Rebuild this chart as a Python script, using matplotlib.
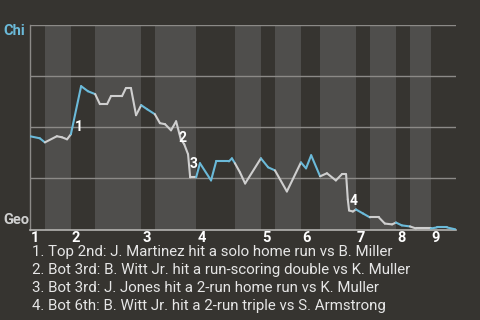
import matplotlib
matplotlib.use("Agg")
import matplotlib.pyplot as plt
from matplotlib.collections import LineCollection
import numpy as np

# Game progress (percent of plays) and Chicago win probability after each play
progress = [
    0, 2.3, 3.5,
    6.3, 7.5, 8.7, 9.6,
    12.0, 13.6, 15.3,
    16.4, 18.1, 19.0, 21.6, 22.5, 23.7, 24.9, 26.1,
    27.5, 29.3,
    30.5, 31.7, 33.1, 34.3, 35.4, 36.2, 37.1, 37.6, 39.0,
    39.9, 42.5, 43.7, 46.7, 47.4, 48.1,
    49.3, 50.5, 54.2,
    55.9, 57.5,
    60.3, 63.6,
    64.8, 66.0, 68.1,
    69.7, 71.8, 73.2, 74.2, 74.6, 74.9, 75.8, 76.5,
    78.2, 79.8,
    81.9, 83.3, 85.0, 85.9,
    87.3, 89.2,
    90.6, 94.1,
    95.5, 97.9, 100,
]
chi_win_prob = [
    .456, .446, .426,
    .456, .451, .441, .466,
    .701, .676, .662,
    .613, .613, .652, .652, .691, .691, .559, .608,
    .588, .564,
    .520, .515, .485, .529, .441, .417, .368, .255, .255,
    .324, .240, .333, .333, .348, .324,
    .279, .225, .348,
    .304, .289,
    .186, .328,
    .299, .363, .260,
    .275, .240, .270, .270, .147, .093, .088, .098,
    .078, .059,
    .059, .029, .025, .034,
    .020, .015,
    .005, .005,
    .010, .010, .0,
]

# Start of each half inning (top 1st, bottom 1st, ..., top 9th) and game end
half_inning_starts = [0, 3.5, 9.6, 15.3, 26.1, 29.3, 39.0, 48.1, 54.2,
                      57.5, 63.6, 68.1, 76.5, 79.8, 85.9, 89.2, 94.1]
game_end = 100
innings = ["1", "2", "3", "4", "5", "6", "7", "8", "9"]

# Key plays: index of the play where each swing starts
key_play_index = [6, 24, 26, 49]
key_play_text = [
    "1. Top 2nd: J. Martinez hit a solo home run vs B. Miller",
    "2. Bot 3rd: B. Witt Jr. hit a run-scoring double vs K. Muller",
    "3. Bot 3rd: J. Jones hit a 2-run home run vs K. Muller",
    "4. Bot 6th: B. Witt Jr. hit a 2-run triple vs S. Armstrong",
]

BG = "#363430"
BAND = "#4f4e4c"
GRID = "#8c8a87"
AXIS = "#b4b3b0"
CHI_BLUE = "#6bbad9"
GEO_GRAY = "#cfcfcf"
TEXT = "#e6e6e6"

plt.rcParams["font.family"] = ["Roboto", "DejaVu Sans"]

W, H = 480, 320
fig = plt.figure(figsize=(W / 100, H / 100), dpi=100, facecolor=BG)
ax = fig.add_axes([30 / W, 1 - 229.5 / H, 426 / W, 204.5 / H])
ax.set_facecolor(BG)
ax.set_xlim(0, game_end)
ax.set_ylim(0, 1)

# Shade the bottom halves of innings
edges = half_inning_starts + [game_end]
for i in range(len(half_inning_starts)):
    if i % 2 == 1:
        ax.axvspan(edges[i], edges[i + 1], color=BAND, lw=0, zorder=0)

for yv in [0.25, 0.5, 0.75, 1.0]:
    ax.axhline(yv, color=GRID, lw=1, zorder=1)

for side in ["top", "right"]:
    ax.spines[side].set_visible(False)
ax.spines["left"].set_color(GRID)
ax.spines["bottom"].set_color(AXIS)
ax.spines["left"].set_linewidth(1)
ax.spines["bottom"].set_linewidth(1.2)
ax.set_xticks([])
ax.set_yticks([])

# Win probability line, coloured by which team is batting
x = np.array(progress)
y = np.array(chi_win_prob)
segs = np.stack([np.column_stack([x[:-1], y[:-1]]),
                 np.column_stack([x[1:], y[1:]])], axis=1)
mids = (x[:-1] + x[1:]) / 2
half_idx = np.searchsorted(half_inning_starts, mids, side="right") - 1
colors = [CHI_BLUE if h % 2 == 0 else GEO_GRAY for h in half_idx]
ax.add_collection(LineCollection(segs, colors=colors, linewidths=1.5,
                                 capstyle="round", joinstyle="round", zorder=3))

# Numbered markers for key plays
offsets = [(8, 7), (2, 1), (6, -10), (6, -2)]
for n, (idx, off) in enumerate(zip(key_play_index, offsets), start=1):
    ax.annotate(str(n), (x[idx], y[idx]), xytext=off, textcoords="offset pixels",
                color="white", fontsize=10, fontweight="bold",
                ha="center", va="center", zorder=4)

# Inning numbers at the start of each top half
for k, lab in enumerate(innings):
    ax.annotate(lab, (half_inning_starts[2 * k], 0), xytext=(1, -2),
                textcoords="offset pixels", xycoords=("data", "axes fraction"),
                color="white", fontsize=10.5, fontweight="bold",
                ha="left", va="top")

fig.text(3 / W, 1 - 31 / H, "Chi", color=CHI_BLUE, fontsize=10.5,
         fontweight="bold", ha="left", va="center")
fig.text(3 / W, 1 - 220 / H, "Geo", color=GEO_GRAY, fontsize=10.5,
         fontweight="bold", ha="left", va="center")

for i, t in enumerate(key_play_text):
    fig.text(32 / W, 1 - (252 + 18 * i) / H, t, color=TEXT, fontsize=10.8,
             ha="left", va="center")

fig.savefig("out.png", dpi=100, facecolor=BG)
